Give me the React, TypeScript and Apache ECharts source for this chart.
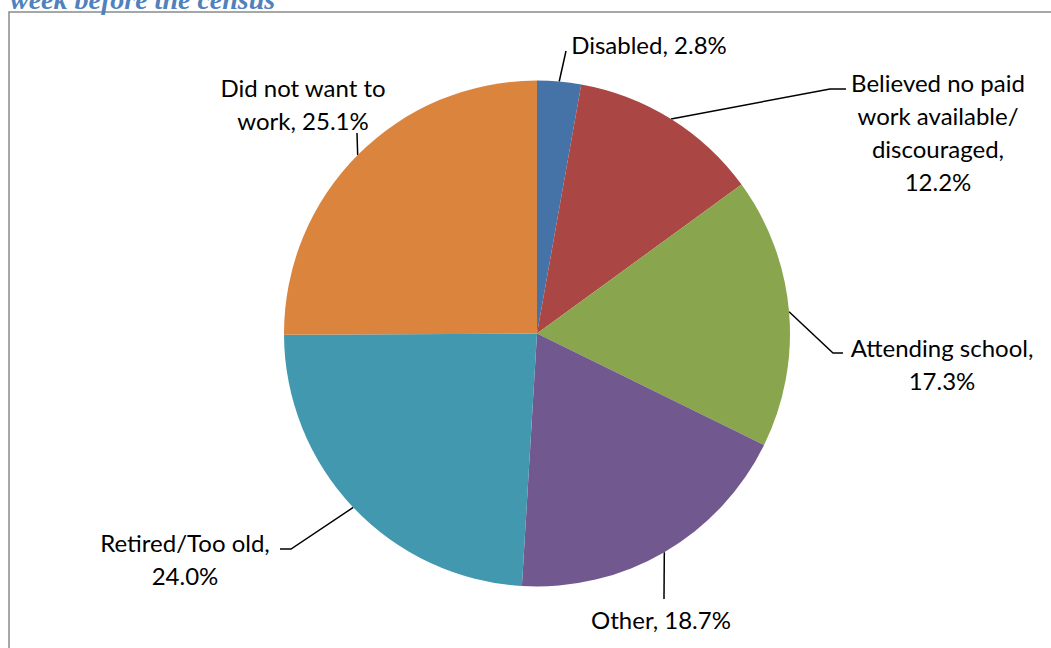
import React, { useEffect, useRef } from "react";
import * as echarts from "echarts";

// ---- data ----
const categories = [
  "Disabled",
  "Believed no paid\nwork available/\ndiscouraged",
  "Attending school",
  "Other",
  "Retired/Too old",
  "Did not want to\nwork",
];
const values = [2.8, 12.2, 17.3, 18.7, 24.0, 25.1];
const separators = [", ", ",\n", ",\n", ", ", ",\n", ", "];
const colors = ["#4572A7", "#AA4643", "#89A54E", "#71588F", "#4198AF", "#DB843D"];
const titleText = "week before the census";

// ---- layout (label anchor centres, leader-line elbow and end) ----
const labelPos = [
  { x: 649, y: 44 },
  { x: 938, y: 132 },
  { x: 942, y: 364 },
  { x: 661, y: 619 },
  { x: 185, y: 559 },
  { x: 303, y: 104 },
];
const lineElbow = [
  [566, 51],
  [830, 89],
  [833, 353],
  [664, 599],
  [291, 549],
  [357, 133],
];
const lineEnd = [
  [566, 51],
  [846, 89],
  [843, 353],
  [664, 599],
  [280, 549],
  [357, 133],
];

export default function App() {
  const ref = useRef<HTMLDivElement>(null);
  useEffect(() => {
    if (!ref.current) return;
    const chart = echarts.init(ref.current, null, { renderer: "svg" });
    chart.setOption({
      animation: false,
      backgroundColor: "#ffffff",
      graphic: [
        {
          type: "rect",
          shape: { x: 9, y: 12, width: 1100, height: 700 },
          style: { fill: "none", stroke: "#8a8a8a", lineWidth: 1.5 },
          z: 0,
        },
        {
          type: "text",
          x: 10,
          y: -15,
          style: {
            text: titleText,
            fill: "#4F81BD",
            font: "italic bold 28px 'Liberation Serif'",
            verticalAlign: "top",
            align: "left",
          },
        },
      ],
      series: [
        {
          type: "pie",
          center: [537, 333.5],
          radius: 253,
          startAngle: 90,
          clockwise: true,
          silent: true,
          emphasis: { disabled: true },
          itemStyle: { borderWidth: 0 },
          data: categories.map((name, i) => ({
            name,
            value: values[i],
            itemStyle: { color: colors[i] },
          })),
          label: {
            show: true,
            position: "outside",
            color: "#000000",
            fontFamily: "Lato",
            fontSize: 24,
            lineHeight: 33,
            align: "center",
            formatter: (p: any) =>
              categories[p.dataIndex] + separators[p.dataIndex] + values[p.dataIndex].toFixed(1) + "%",
          },
          labelLine: {
            show: true,
            length: 20,
            length2: 10,
            lineStyle: { color: "#000000", width: 1.5 },
          },
          labelLayout: (params: any) => {
            const i = params.dataIndex;
            const start = params.labelLinePoints ? params.labelLinePoints[0] : lineElbow[i];
            return {
              x: labelPos[i].x,
              y: labelPos[i].y,
              align: "center",
              verticalAlign: "middle",
              labelLinePoints: [start, lineElbow[i], lineEnd[i]],
            };
          },
        },
      ],
    });
    return () => chart.dispose();
  }, []);
  return (
    <div
      ref={ref}
      style={{ position: "fixed", left: 0, top: 0, width: 1051, height: 648 }}
    />
  );
}
